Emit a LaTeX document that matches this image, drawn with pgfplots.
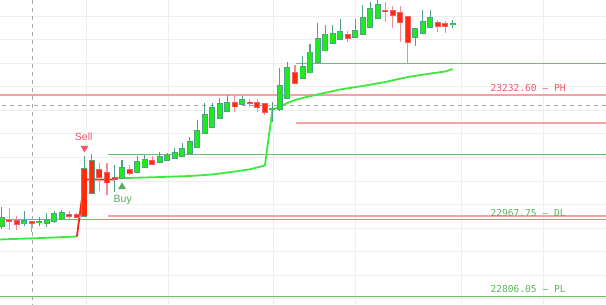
\documentclass[border=0pt]{standalone}
\usepackage{pgfplots}
\usepackage{pgfplotstable}
\pgfplotsset{compat=1.18}
\usepackage{fontspec}
\setmainfont{Liberation Sans}
\newfontfamily\monof{DejaVu Sans Mono}
\definecolor{gfill}{HTML}{1EEA1E}
\definecolor{gedge}{HTML}{4FA08C}
\definecolor{rfill}{HTML}{FF2B0A}
\definecolor{redge}{HTML}{F0606C}
\definecolor{rwick}{HTML}{F48A93}
\definecolor{trailg}{HTML}{3FE83F}
\definecolor{trailr}{HTML}{EE2A10}
\definecolor{hlred}{HTML}{F5A0A6}
\definecolor{hlgreen}{HTML}{6DBE6D}
\definecolor{txtred}{HTML}{F0566A}
\definecolor{txtgreen}{HTML}{5DB55D}
\definecolor{buyg}{HTML}{5AAA5A}
\definecolor{gridc}{HTML}{EEEEEE}
\definecolor{dashc}{HTML}{A8A8A8}

% green (rising) candles: index, open, high, low, close
\pgfplotstableread{
i o h l c
0 22953.6 22994.9 22948.3 22972.2
3 22959.9 22986.5 22954.6 22965.2
5 22962.7 22974.4 22953.6 22963.7
6 22961.6 22982.2 22953.1 22968.4
7 22964.6 22987.5 22962.0 22979.7
8 22970.5 22988.6 22968.4 22981.6
16 23055.8 23095.7 23054.4 23078.3
18 23069.8 23104.2 23068.1 23089.8
19 23080.5 23106.3 23078.8 23094.7
21 23089.4 23112.3 23087.7 23101.0
22 23094.7 23110.2 23093.6 23103.2
23 23098.3 23120.8 23096.8 23109.5
24 23103.6 23130.1 23102.1 23117.6
25 23110.2 23144.5 23108.5 23133.5
26 23122.3 23180.6 23121.2 23156.6
27 23152.0 23215.6 23149.8 23190.2
28 23164.7 23216.3 23162.6 23204.4
29 23183.2 23225.6 23181.7 23213.1
30 23198.7 23232.6 23197.2 23216.3
32 23213.5 23231.5 23212.4 23222.0
36 23202.3 23218.4 23175.9 23203.5
37 23202.3 23289.9 23199.7 23251.7
38 23225.6 23301.6 23224.1 23289.3
40 23268.7 23315.8 23265.5 23292.7
41 23280.3 23339.8 23279.3 23322.8
42 23302.6 23384.8 23301.6 23351.0
43 23327.0 23381.1 23326.0 23359.9
44 23342.9 23381.1 23341.9 23362.7
45 23351.4 23394.9 23350.4 23365.7
47 23355.0 23393.2 23354.0 23369.0
48 23361.6 23423.6 23360.6 23395.4
49 23377.5 23430.0 23376.5 23415.1
50 23396.6 23440.0 23396.0 23423.6
55 23356.3 23372.7 23337.2 23372.0
56 23364.2 23413.0 23363.1 23388.1
57 23376.3 23413.0 23375.2 23395.4
60 23382.8 23391.8 23374.1 23383.7
}\greentab

% red (falling) candles
\pgfplotstableread{
i o h l c
1 22966.3 22992.8 22946.1 22964.2
2 22965.2 22975.8 22946.1 22958.2
4 22962.7 22965.2 22942.9 22960.6
9 22978.0 22987.5 22969.5 22975.8
10 22978.0 22982.8 22971.6 22973.1
13 23073.5 23088.9 23028.9 23059.2
14 23067.7 23088.9 23020.4 23046.9
17 23073.5 23084.1 23062.8 23067.7
20 23093.2 23102.5 23084.1 23086.8
31 23215.0 23232.6 23195.5 23208.2
33 23216.7 23223.7 23208.2 23215.2
34 23215.0 23224.5 23196.5 23207.8
35 23212.9 23213.5 23191.2 23195.5
39 23279.3 23296.3 23256.4 23257.4
46 23359.9 23368.0 23344.6 23354.0
51 23411.5 23430.6 23388.1 23410.2
52 23410.2 23422.5 23374.1 23401.7
53 23406.0 23421.5 23345.7 23388.1
54 23398.1 23399.0 23298.4 23345.7
58 23386.0 23391.8 23366.9 23379.7
59 23383.3 23390.3 23363.5 23379.0
}\redtab

% signal-coloured candles (red body, teal outline)
\pgfplotstableread{
i o h l c
11 23076.6 23103.2 22974.8 22975.8
12 23093.2 23107.4 23024.6 23025.3
15 23056.0 23084.1 23027.4 23054.8
}\sigtab

\pgfplotsset{
  nomark/.style={only marks, mark=*, mark size=0pt, mark options={draw=none, fill=none}, forget plot},
  wick/.style={nomark,
    error bars/.cd, y dir=plus, y explicit, error mark=none,
    error bar style={#1, line width=1.1pt}},
  bodyedge/.style={nomark,
    error bars/.cd, y dir=plus, y explicit, error mark=none,
    error bar style={#1, line width=6pt}},
  bodyfill/.style={nomark,
    error bars/.cd, y dir=plus, y explicit, error mark=none,
    error bar style={#1, line width=4.2pt}},
}

\begin{document}
\begin{tikzpicture}
\begin{axis}[
  width=606pt, height=304pt, scale only axis,
  xmin=-0.226, xmax=80.36, ymin=22789.1, ymax=23434.2,
  axis line style={draw=none},
  xtick={11.21,22.11,36.08,46.98,61.08,71.98},
  ytick={22800,22850,...,23400},
  xticklabels={}, yticklabels={},
  major tick length=0pt,
  grid=major, major grid style={gridc, line width=0.9pt},
]
% vertical and horizontal dashed crosshair
\addplot[dashc, line width=1pt, dash pattern=on 4pt off 4pt, forget plot] coordinates {(4.16,22780) (4.16,23440)};
\addplot[dashc, line width=1pt, dash pattern=on 4pt off 4pt, forget plot] coordinates {(-1,23209.3) (81,23209.3)};
% horizontal levels
\addplot[hlred, line width=1.6pt, forget plot] coordinates {(-1,23232.60) (81,23232.60)};
\addplot[hlred, line width=1.6pt, forget plot] coordinates {(39.1,23173.2) (81,23173.2)};
\addplot[hlred, line width=1.6pt, forget plot] coordinates {(14.1,22975.8) (81,22975.8)};
\addplot[hlgreen, line width=1pt, forget plot] coordinates {(39.2,23299.0) (81,23299.0)};
\addplot[hlgreen, line width=1pt, forget plot] coordinates {(14.1,23107.4) (81,23107.4)};
\addplot[hlgreen, line width=1pt, forget plot] coordinates {(-1,22967.75) (81,22967.75)};
\addplot[hlgreen, line width=1pt, forget plot] coordinates {(-1,22806.05) (81,22806.05)};
% trailing stop
\addplot[trailg, line width=1.8pt, forget plot] coordinates {(-0.3,22926.0) (5,22929.0) (10,22932.3)};
\addplot[trailr, line width=1.8pt, forget plot] coordinates {(10,22932.3) (11,23053.3) (15,23053.3)};
\addplot[trailg, line width=1.8pt, forget plot] coordinates {
(15,23055.8) (20,23058.0) (25,23060.7) (28,23063.9) (31,23070.3) (33,23074.9) (35,23083.0)
(36,23200.8) (37,23208.2) (38,23215.6) (39,23222.0) (40,23226.2) (42,23233.7) (45,23244.3)
(48,23251.7) (51,23260.2) (54,23270.8) (57,23278.2) (59,23282.5) (60,23287.8)};
% wicks
\addplot[wick=gedge] table[x=i, y=l, y error plus expr=\thisrow{h}-\thisrow{l}] {\greentab};
\addplot[wick=rwick] table[x=i, y=l, y error plus expr=\thisrow{h}-\thisrow{l}] {\redtab};
\addplot[wick=gedge] table[x=i, y=l, y error plus expr=\thisrow{h}-\thisrow{l}] {\sigtab};
% bodies
\addplot[bodyedge=gedge] table[x=i, y expr=\thisrow{o}-1.8, y error plus expr=\thisrow{c}-\thisrow{o}+3.6] {\greentab};
\addplot[bodyfill=gfill] table[x=i, y=o, y error plus expr=\thisrow{c}-\thisrow{o}] {\greentab};
\addplot[bodyedge=redge] table[x=i, y expr=\thisrow{c}-1.8, y error plus expr=\thisrow{o}-\thisrow{c}+3.6] {\redtab};
\addplot[bodyfill=rfill] table[x=i, y=c, y error plus expr=\thisrow{o}-\thisrow{c}] {\redtab};
\addplot[bodyedge=gedge] table[x=i, y expr=\thisrow{c}-1.8, y error plus expr=\thisrow{o}-\thisrow{c}+3.6] {\sigtab};
\addplot[bodyfill=rfill] table[x=i, y=c, y error plus expr=\thisrow{o}-\thisrow{c}] {\sigtab};
% signals
\addplot[only marks, mark=triangle*, mark size=4pt, mark options={rotate=180, fill=txtred, draw=txtred}, forget plot] coordinates {(11,23120.1)};
\addplot[only marks, mark=triangle*, mark size=4pt, mark options={fill=buyg, draw=buyg}, forget plot] coordinates {(16,23037.8)};
\node[text=txtred, font=\fontsize{10.5}{12}\selectfont, inner sep=0pt] at (axis cs:10.9,23144.1) {Sell};
\node[text=buyg, font=\fontsize{10.5}{12}\selectfont, inner sep=0pt] at (axis cs:16.1,23009.8) {Buy};
% level labels
\node[text=txtred, font=\monof\fontsize{9.6}{11}\selectfont, inner sep=0pt] at (axis cs:70.0,23246.8) {23232.60 – PH};
\node[text=txtgreen, font=\monof\fontsize{9.6}{11}\selectfont, inner sep=0pt] at (axis cs:70.0,22982.8) {22967.75 – DL};
\node[text=txtgreen, font=\monof\fontsize{9.6}{11}\selectfont, inner sep=0pt] at (axis cs:70.0,22820.9) {22806.05 – PL};
\end{axis}
\pgfresetboundingbox
\useasboundingbox (current axis.south west) rectangle (current axis.north east);
\end{tikzpicture}
\end{document}
